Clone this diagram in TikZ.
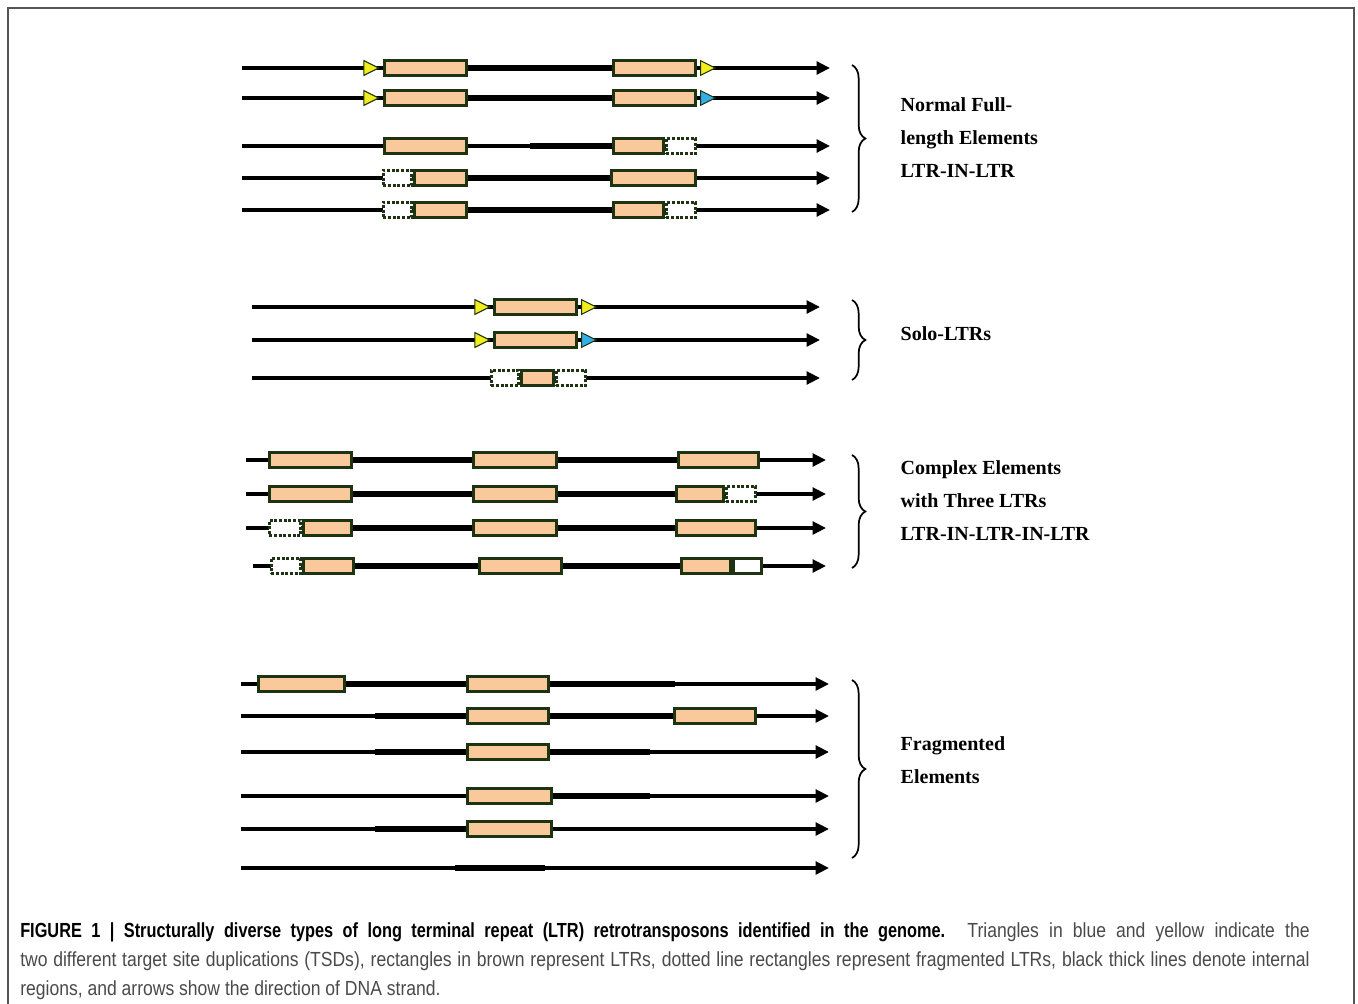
\documentclass[tikz,border=0pt]{standalone}
\usepackage{fontspec}
\setmainfont{Liberation Serif}
\newfontfamily\capfont[FakeStretch=0.86]{Liberation Sans}
\newfontfamily\capboldfont[FakeStretch=0.80]{Liberation Sans}
\usepackage{tikz}
\usetikzlibrary{arrows.meta,shapes.geometric,decorations.pathreplacing}
\definecolor{ltrfill}{HTML}{F9C99B}
\definecolor{ltrline}{HTML}{1E3312}
\definecolor{tsdyellow}{HTML}{F2EE1E}
\definecolor{tsdblue}{HTML}{33AEE6}
\definecolor{framegray}{HTML}{555555}
\definecolor{capgray}{HTML}{4A4A4A}

\begin{document}
\begin{tikzpicture}[x=0.75pt, y=-0.75pt, >={Triangle[length=10pt,width=9.5pt]},
    strand/.style={line width=2.4pt, ->},
    inner/.style={line width=4.6pt},
    ltr/.style={draw=ltrline, line width=2pt, fill=ltrfill,
                minimum height=11.5pt, inner sep=0pt},
    frag/.style={draw=ltrline, line width=2pt, dash pattern=on 2.2pt off 1.3pt,
                 fill=white, minimum height=11.5pt, inner sep=0pt},
    tsd/.style={isosceles triangle, isosceles triangle stretches, draw=ltrline,
                line width=0.8pt, minimum width=11pt, minimum height=11pt, inner sep=0pt},
    grp/.style={decorate, decoration={brace, amplitude=10pt}, line width=1.3pt},
    lab/.style={font=\bfseries\fontsize{15}{24.75}\selectfont, align=left, anchor=west},
    captext/.style={font=\capfont\fontsize{15.3}{21.75}\selectfont, align=justify,
                text width=967pt, anchor=west, text=capgray, inner sep=0pt}]
  \useasboundingbox (0,0) rectangle (1358,1003);
  \fill[white] (0,0) rectangle (1358,1003);
  \draw[framegray, line width=1.5pt] (8,1010) -- (8,8) -- (1354,8) -- (1354,1010);
  % dna strands (thin line + arrow)
  \foreach \r/\xa/\xb/\y in {a1/242/830/68, a2/242/830/98, a3/242/830/146,
                             a4/242/830/178, a5/242/830/210,
                             b1/252/820/307, b2/252/820/340, b3/252/820/378,
                             c1/246/826/460, c2/246/826/494,
                             c3/246/826/528, c4/253/826/566,
                             d1/241/829/684, d2/241/829/716, d3/241/829/752,
                             d4/241/829/796, d5/241/829/829, d6/241/829/868} {
    \coordinate (\r-s) at (\xa,\y);
    \coordinate (\r-e) at (\xb,\y);
    \draw[strand] (\r-s) -- (\r-e);
  }
  % ltr boxes
  \foreach \n/\a/\b/\y in {a1-1/383/468/68, a1-2/612/697/68,
                           a2-1/383/468/98, a2-2/612/697/98,
                           a3-1/383/468/146, a3-2/612/665/146,
                           a4-1/413/468/178, a4-2/610/697/178,
                           a5-1/413/468/210, a5-2/612/665/210,
                           b1-1/493/578/307, b2-1/493/578/340, b3-1/520/555/378,
                           c1-1/268/353/460, c1-2/472/558/460, c1-3/677/760/460,
                           c2-1/268/353/494, c2-2/472/558/494, c2-3/675/725/494,
                           c3-1/302/353/528, c3-2/472/558/528, c3-3/675/757/528,
                           c4-1/302/355/566, c4-2/478/563/566, c4-3/680/732/566,
                           d1-1/257/346/684, d1-2/466/550/684,
                           d2-1/466/550/716, d2-2/673/757/716,
                           d3-1/466/550/752, d4-1/466/553/796, d5-1/466/553/829}
    \node[ltr, minimum width={(\b-\a)*0.75-2}] (\n) at ({(\a+\b)/2},\y) {};
  % fragmented ltrs (dotted boxes)
  \foreach \n/\a/\b/\y in {a3-f/665/697/146, a4-f/382/413/178,
                           a5-f/382/413/210, a5-g/665/697/210,
                           b3-f/490/520/378, b3-g/555/587/378,
                           c2-f/725/757/494, c3-f/268/302/528, c4-f/270/302/566}
    \node[frag, minimum width={(\b-\a)*0.75-2}] (\n) at ({(\a+\b)/2},\y) {};
  \node[ltr, fill=white, minimum width={31*0.75-2}] (c4-w) at (747.5,566) {};
  % tsd triangles
  \foreach \n/\x/\y/\c in {a1-l/380/68/tsdyellow, a2-l/380/98/tsdyellow,
                           b1-l/491/307/tsdyellow, b2-l/491/340/tsdyellow}
    \node[tsd, fill=\c, anchor=apex] (\n) at (\x,\y) {};
  \foreach \n/\x/\y/\c in {a1-r/700/68/tsdyellow, a2-r/700/98/tsdblue,
                           b1-r/581/307/tsdyellow, b2-r/581/340/tsdblue}
    \node[tsd, fill=\c, anchor=lower side] (\n) at (\x,\y) {};
  % internal regions (thick lines)
  \coordinate (a3-k) at (530,146);
  \coordinate (d1-k) at (675,684);
  \coordinate (d2-j) at (375,716);
  \coordinate (d3-j) at (375,752);
  \coordinate (d3-k) at (650,752);
  \coordinate (d4-k) at (650,796);
  \coordinate (d5-j) at (375,829);
  \coordinate (d6-j) at (455,868);
  \coordinate (d6-k) at (545,868);
  \foreach \p/\q in {a1-1/a1-2, a2-1/a2-2, a4-1/a4-2, a5-1/a5-2,
                     c1-1/c1-2, c1-2/c1-3, c2-1/c2-2, c2-2/c2-3,
                     c3-1/c3-2, c3-2/c3-3, c4-1/c4-2, c4-2/c4-3,
                     d1-1/d1-2, d2-1/d2-2}
    \draw[inner] (\p.east) -- (\q.west);
  \draw[inner] (a3-k) -- (a3-2.west);
  \draw[inner] (d1-2.east) -- (d1-k);
  \draw[inner] (d2-j) -- (d2-1.west);
  \draw[inner] (d3-j) -- (d3-1.west);
  \draw[inner] (d3-1.east) -- (d3-k);
  \draw[inner] (d4-1.east) -- (d4-k);
  \draw[inner] (d5-j) -- (d5-1.west);
  \draw[inner] (d6-j) -- (d6-k);
  % braces and group names
  \foreach \g/\ya/\yb in {ga/65/212, gb/300/380, gc/455/568, gd/680/858} {
    \coordinate (\g-t) at (852,\ya);
    \coordinate (\g-b) at (852,\yb);
    \draw[grp] (\g-t) -- (\g-b);
  }
  \node[lab] (la) at (896,138) {Normal Full-\\length Elements\\LTR-IN-LTR};
  \node[lab] (lb) at (896,334) {Solo-LTRs};
  \node[lab] (lc) at (896,501) {Complex Elements\\with Three LTRs\\LTR-IN-LTR-IN-LTR};
  \node[lab] (ld) at (896,760) {Fragmented\\Elements};
  % caption
  \node[captext] (cap) at (20,961)
    {{\capboldfont\bfseries\color{black}FIGURE 1 | Structurally diverse types of long terminal repeat (LTR) retrotransposons identified in the genome.} Triangles in blue and yellow indicate the\linebreak
     two different target site duplications (TSDs), rectangles in brown represent LTRs, dotted line rectangles represent fragmented LTRs, black thick lines denote internal\linebreak
     regions, and arrows show the direction of DNA strand.};
\end{tikzpicture}
\end{document}
